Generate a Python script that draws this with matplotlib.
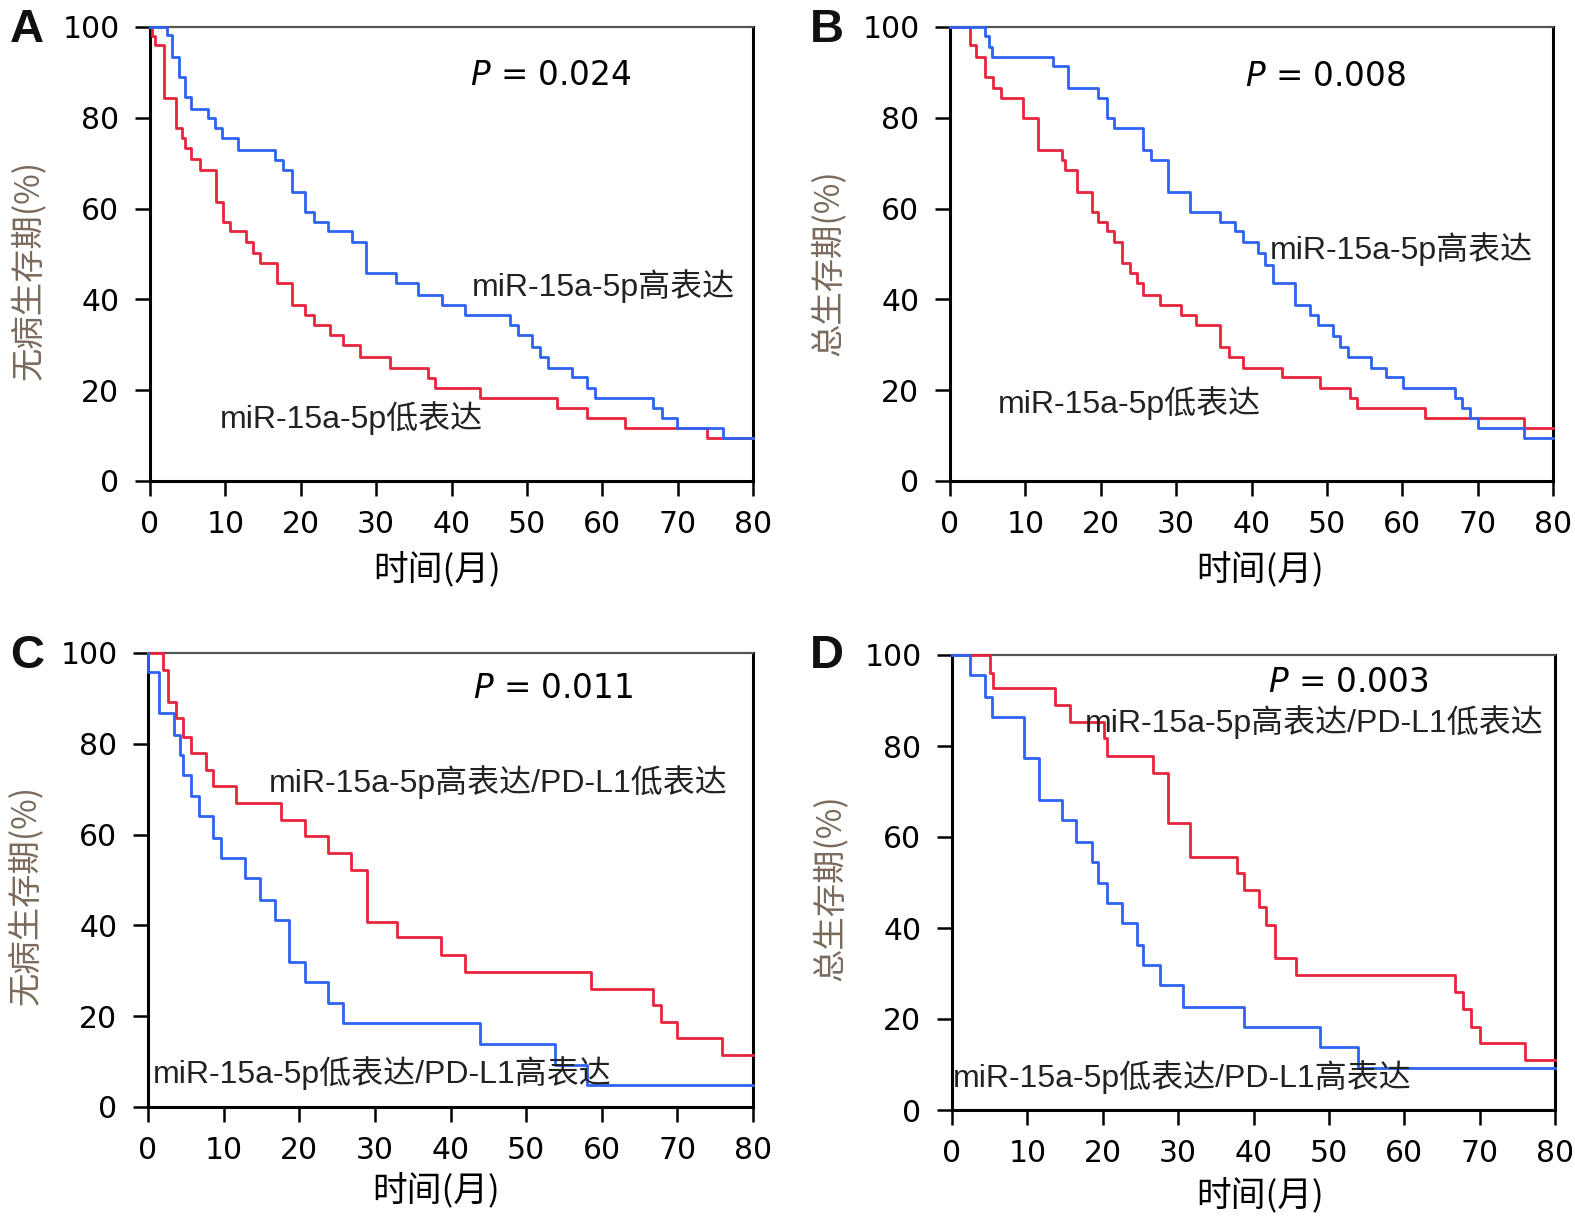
import numpy as np
import matplotlib.pyplot as plt

RED = '#E8243C'
BLUE = '#2D62F2'
LABEL_GRAY = '#7a6a5c'

# ---- data (months, survival %) ----
# A: disease-free survival
a_high_t = [2.2, 2.9, 3.8, 4.6, 5.5, 7.7, 8.6, 9.5, 11.7, 16.6, 17.7, 18.8, 20.6, 21.7,
            23.6, 26.8, 28.7, 32.7, 35.6, 38.7, 41.8, 47.7, 48.8, 50.7, 51.7, 52.8,
            56.0, 58.0, 59.0, 66.7, 67.9, 69.9, 76.0]
a_high_s = [98.2, 93.5, 89.0, 84.6, 82.0, 80.0, 77.8, 75.5, 73.0, 70.7, 68.5, 63.7, 59.3, 57.0,
            55.0, 52.7, 45.8, 43.6, 41.0, 38.8, 36.6, 34.4, 32.2, 29.5, 27.3, 25.0,
            22.9, 20.5, 18.3, 16.0, 13.9, 11.7, 9.5]
a_low_t = [0.2, 0.7, 1.8, 3.5, 4.2, 4.6, 5.5, 6.6, 8.8, 9.7, 10.6, 12.8, 13.7, 14.6, 16.8,
           18.8, 20.6, 21.7, 23.9, 25.6, 27.9, 31.8, 36.9, 37.8, 43.8, 54.0, 58.0, 63.0, 73.9]
a_low_s = [98.0, 96.0, 84.4, 77.8, 75.5, 73.3, 71.0, 68.5, 61.5, 57.0, 55.0, 52.7, 50.2, 48.0, 43.6,
           38.8, 36.6, 34.4, 32.2, 30.0, 27.3, 25.0, 22.7, 20.5, 18.3, 16.0, 13.9, 11.7, 9.5]

# B: overall survival
b_high_t = [4.6, 5.2, 5.6, 13.7, 15.7, 19.7, 20.8, 21.7, 25.6, 26.7, 28.9, 31.8, 35.8, 37.8,
            38.9, 40.8, 41.8, 42.9, 45.8, 47.7, 48.8, 50.8, 51.7, 52.8, 55.9, 57.9, 60.1,
            67.0, 67.9, 69.0, 70.1, 76.1]
b_high_s = [98.0, 95.7, 93.5, 91.3, 86.6, 84.4, 80.0, 77.8, 73.0, 70.7, 63.7, 59.3, 57.0, 55.0,
            52.7, 50.2, 47.6, 43.6, 38.8, 36.6, 34.4, 31.9, 29.5, 27.3, 25.0, 22.9, 20.5,
            18.3, 16.0, 13.9, 11.7, 9.5]
b_low_t = [2.6, 3.5, 4.6, 5.7, 6.8, 9.7, 11.7, 14.8, 15.2, 16.8, 18.8, 19.7, 20.8, 21.7, 22.8,
           23.9, 24.8, 25.6, 27.9, 30.7, 32.7, 35.8, 37.0, 38.9, 44.0, 49.1, 53.1, 54.0, 63.0, 76.1]
b_low_s = [96.0, 93.5, 89.0, 86.6, 84.4, 80.0, 73.0, 70.7, 68.5, 63.7, 59.3, 57.0, 55.0, 52.7, 48.0,
           45.8, 43.6, 41.0, 38.8, 36.6, 34.4, 29.5, 27.3, 25.0, 22.9, 20.5, 18.3, 16.0, 13.9, 11.7]

# C: disease-free survival, miR-15a-5p / PD-L1 groups
c_red_t = [2.0, 2.6, 3.7, 4.6, 5.7, 7.7, 8.6, 11.7, 17.6, 20.7, 23.8, 26.9, 28.9, 32.9,
           38.8, 41.9, 58.6, 66.8, 67.9, 69.9, 75.9]
c_red_s = [96.3, 89.3, 85.7, 81.6, 77.9, 74.3, 70.6, 66.9, 63.2, 59.6, 55.9, 52.2, 40.8, 37.5,
           33.5, 29.8, 26.1, 22.4, 18.7, 15.1, 11.4]
c_blue_t = [0.0, 1.5, 3.5, 4.2, 4.6, 5.7, 6.8, 8.6, 9.7, 12.8, 14.8, 16.8, 18.7, 20.7,
            23.8, 25.8, 43.9, 53.8, 58.0]
c_blue_s = [95.9, 86.8, 82.0, 77.6, 73.2, 68.4, 64.0, 59.2, 54.8, 50.4, 45.7, 41.2, 32.0, 27.6,
            22.9, 18.4, 13.8, 9.2, 4.8]

# D: overall survival, miR-15a-5p / PD-L1 groups
d_red_t = [5.1, 5.5, 13.7, 15.7, 20.1, 20.6, 26.7, 28.7, 31.6, 37.8, 38.7, 40.7, 41.7, 42.9,
           45.7, 66.7, 67.8, 68.9, 70.0, 76.0]
d_red_s = [96.0, 92.7, 89.0, 85.3, 81.7, 77.7, 74.0, 63.0, 55.7, 52.0, 48.4, 44.7, 40.7, 33.3,
           29.7, 26.0, 22.3, 18.3, 14.7, 11.0]
d_blue_t = [2.4, 4.4, 5.3, 9.5, 11.5, 14.6, 16.5, 18.6, 19.4, 20.5, 22.5, 24.5, 25.4, 27.6,
            30.7, 38.7, 48.8, 53.9]
d_blue_s = [95.6, 90.8, 86.4, 77.3, 68.1, 63.7, 59.0, 54.6, 49.8, 45.4, 41.0, 36.3, 31.9, 27.5,
            22.7, 18.3, 13.9, 9.2]

x_ticks = [0, 10, 20, 30, 40, 50, 60, 70, 80]
y_ticks = [0, 20, 40, 60, 80, 100]

label_font = ['Liberation Sans', 'Noto Sans CJK SC']
cjk_font = ['Noto Sans CJK SC', 'DejaVu Sans']

fig = plt.figure(figsize=(15.75, 12.27), dpi=100)
W, H = 1575, 1227


def make_ax(left, right, top, bottom):
    return fig.add_axes([left / W, 1 - bottom / H, (right - left) / W, (bottom - top) / H])


def km(ax, t, s, color):
    tt = [0] + list(t) + [80]
    ss = [100] + list(s) + [s[-1]]
    ax.step(tt, ss, where='post', color=color, lw=2.0, clip_on=False, zorder=3)


def style(ax, ylabel, ylab_y, xlab_x, xlab_y):
    ax.set_xlim(0, 80)
    ax.set_ylim(0, 100)
    ax.set_xticks(x_ticks)
    ax.set_yticks(y_ticks)
    ax.tick_params(direction='out', length=11, width=1.8, labelsize=21.5, pad=10)
    ax.tick_params(axis='y', pad=11)
    for lab in ax.get_xticklabels() + ax.get_yticklabels():
        lab.set_family('DejaVu Sans')
    for side in ['left', 'bottom', 'right']:
        ax.spines[side].set_linewidth(2.2)
        ax.spines[side].set_color('black')
    ax.spines['top'].set_linewidth(1.6)
    ax.spines['top'].set_color('#555555')
    ax.set_ylabel(ylabel, family=cjk_font, fontsize=24, color=LABEL_GRAY,
                  fontweight='light', va='center')
    ax.yaxis.set_label_coords(-0.202, ylab_y)
    ax.set_xlabel('时间(月)', family=cjk_font, fontsize=25, fontweight='light', va='center')
    ax.xaxis.set_label_coords(xlab_x, xlab_y)


def ptext(ax, x, y, val):
    ax.text(x, y, r'$\mathit{P}$ = ' + val, fontsize=23.5, family='DejaVu Sans',
            ha='left', va='center')


def group(ax, x, y, s):
    ax.text(x, y, s, fontsize=23, family=label_font, color='#222222',
            ha='left', va='center', zorder=4)


# A
ax = make_ax(150, 753, 27, 481)
km(ax, a_low_t, a_low_s, RED)
km(ax, a_high_t, a_high_s, BLUE)
style(ax, '无病生存期(%)', 0.465, 0.476, -0.198)
ptext(ax, 42.4, 89.4, '0.024')
group(ax, 42.7, 43.0, 'miR-15a-5p高表达')
group(ax, 9.3, 13.9, 'miR-15a-5p低表达')

# B
ax = make_ax(950, 1553, 27, 481)
km(ax, b_low_t, b_low_s, RED)
km(ax, b_high_t, b_high_s, BLUE)
style(ax, '总生存期(%)', 0.48, 0.514, -0.198)
ptext(ax, 39.1, 89.2, '0.008')
group(ax, 42.4, 51.1, 'miR-15a-5p高表达')
group(ax, 6.4, 17.2, 'miR-15a-5p低表达')

# C
ax = make_ax(148, 753, 653, 1107)
km(ax, c_red_t, c_red_s, RED)
km(ax, c_blue_t, c_blue_s, BLUE)
style(ax, '无病生存期(%)', 0.467, 0.476, -0.185)
ptext(ax, 43.0, 92.1, '0.011')
group(ax, 16.0, 71.6, 'miR-15a-5p高表达/PD-L1低表达')
group(ax, 0.7, 7.4, 'miR-15a-5p低表达/PD-L1高表达')

# D
ax = make_ax(952, 1555, 655, 1110)
km(ax, d_red_t, d_red_s, RED)
km(ax, d_blue_t, d_blue_s, BLUE)
style(ax, '总生存期(%)', 0.488, 0.511, -0.189)
ptext(ax, 41.9, 94.0, '0.003')
group(ax, 17.6, 85.3, 'miR-15a-5p高表达/PD-L1低表达')
group(ax, 0.15, 7.3, 'miR-15a-5p低表达/PD-L1高表达')

for letter, x, y in [('A', 10, 8), ('B', 810, 8), ('C', 10, 634), ('D', 810, 634)]:
    fig.text(x / W, 1 - y / H, letter, fontsize=34, fontweight='bold',
             family='Liberation Sans', ha='left', va='top', color='#111111')

fig.savefig('out.png', dpi=100)
